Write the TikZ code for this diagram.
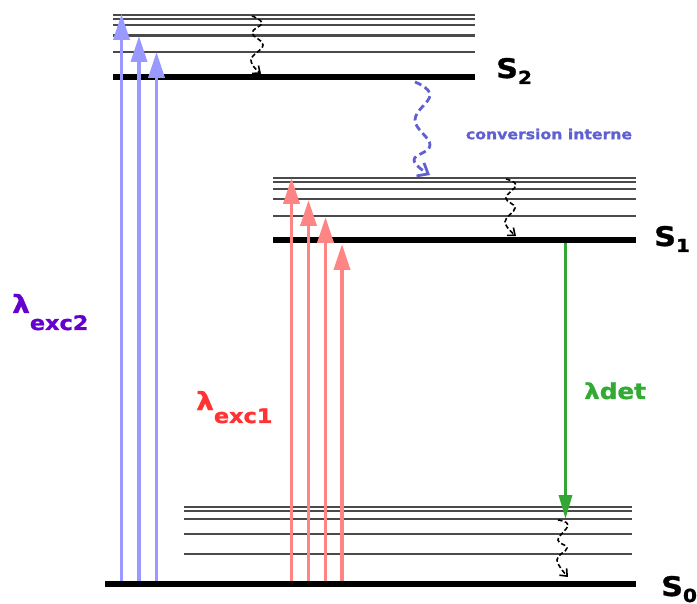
\documentclass[tikz,border=0pt]{standalone}
\usepackage{fontspec}
\setmainfont{DejaVu Sans}[BoldFeatures={FakeStretch=1.12,FakeBold=1.2}]
\usetikzlibrary{arrows.meta}
\definecolor{lvlgray}{HTML}{4A4A4A}
\definecolor{bluearr}{HTML}{9999FF}
\definecolor{redarr}{HTML}{FF8585}
\definecolor{greenarr}{HTML}{33A633}
\definecolor{purplelab}{HTML}{6600CC}
\definecolor{redlab}{HTML}{FF3333}
\definecolor{greenlab}{HTML}{33AA33}
\definecolor{convblue}{HTML}{6060D0}
\begin{document}
\begin{tikzpicture}[x=1pt,y=-1pt,
  thinlvl/.style={draw=lvlgray, line width=2.2pt},
  thicklvl/.style={draw=black, line width=6pt},
  bluex/.style={draw=bluearr, line width=3.6pt, -{Triangle[length=26pt,width=16pt]}},
  redx/.style={draw=redarr, line width=3.9pt, -{Triangle[length=26pt,width=16pt]}},
  greenx/.style={draw=greenarr, line width=3.2pt, -{Triangle[length=24pt,width=13pt]}},
  relaxw/.style={draw=black, dash pattern=on 4.5pt off 2.5pt, line width=1.6pt, -{Straight Barb[length=6pt,width=10pt]}},
  convw/.style={draw=convblue, dash pattern=on 7pt off 4pt, line width=2.8pt, -{Straight Barb[length=9pt,width=15pt]}},
  lab/.style={anchor=base west, inner sep=0pt, font=\bfseries}
]
\useasboundingbox (0,0) rectangle (697,604);

% S2 manifold
\foreach \yy in {15,19,25,35.5,52.3}
  \draw[thinlvl] (113,\yy) -- (475,\yy);
\draw[thicklvl] (113,77) -- (475,77);
% S1 manifold
\foreach \yy in {177.7,181.7,189,199,215.7}
  \draw[thinlvl] (273,\yy) -- (636,\yy);
\draw[thicklvl] (273,240.5) -- (636,240.5);
% S0 manifold
\foreach \yy in {507.3,510.7,519,534,554}
  \draw[thinlvl] (184,\yy) -- (632,\yy);
\draw[thicklvl] (105,583.8) -- (636,583.8);

% named end points
\coordinate (b1) at (121.5,581); \coordinate (t1) at (121.5,14);
\coordinate (b2) at (139,581);   \coordinate (t2) at (139,36);
\coordinate (b3) at (156.5,581); \coordinate (t3) at (156.5,52);
\coordinate (r1b) at (291.5,581); \coordinate (r1t) at (291.5,178);
\coordinate (r2b) at (308.5,581); \coordinate (r2t) at (308.5,200);
\coordinate (r3b) at (325.5,581); \coordinate (r3t) at (325.5,217);
\coordinate (r4b) at (342,581);   \coordinate (r4t) at (342,244);
\coordinate (gb) at (565.5,243);  \coordinate (gt) at (565.5,519);

% excitation arrows
\draw[bluex] (b1) -- (t1);
\draw[bluex] (b2) -- (t2);
\draw[bluex] (b3) -- (t3);
\draw[redx] (r1b) -- (r1t);
\draw[redx] (r2b) -- (r2t);
\draw[redx] (r3b) -- (r3t);
\draw[redx] (r4b) -- (r4t);
% emission
\draw[greenx] (gb) -- (gt);

% vibrational relaxation
\draw[relaxw] plot[smooth, tension=0.7] coordinates {(252,16) (262,23) (252,33) (263,45) (251,60) (261,74)};
\draw[relaxw] plot[smooth, tension=0.7] coordinates {(506,179) (516,185) (506,198) (515,208) (505,222) (516,236)};
\draw[relaxw] plot[smooth, tension=0.7] coordinates {(558,520) (568,525) (558,540) (567,548) (557,560) (568,577)};
% internal conversion
\draw[convw] plot[smooth, tension=0.7] coordinates {(415,82) (430,95) (415,120) (430,145) (414,160) (430,175)};

% labels
\node[lab] (s2) at (496,78) {\fontsize{27}{27}\selectfont S\raisebox{-6pt}{\fontsize{18}{18}\selectfont 2}};
\node[lab] (s1) at (654,246) {\fontsize{27}{27}\selectfont S\raisebox{-6pt}{\fontsize{18}{18}\selectfont 1}};
\node[lab] (s0) at (661,596) {\fontsize{27}{27}\selectfont S\raisebox{-6pt}{\fontsize{18}{18}\selectfont 0}};
\node[anchor=center, inner sep=0pt, font=\bfseries, text=convblue] (ci) at (549,134) {\fontsize{14}{14}\selectfont conversion interne};
\node[lab, text=purplelab] (lexc2) at (12,313) {\fontsize{25}{25}\selectfont λ\raisebox{-17pt}{\fontsize{20}{20}\selectfont exc2}};
\node[lab, text=redlab] (lexc1) at (196,410) {\fontsize{25}{25}\selectfont λ\raisebox{-13pt}{\fontsize{20}{20}\selectfont exc1}};
\node[lab, text=greenlab] (ldet) at (584,399) {\fontsize{22}{22}\selectfont λ\fontsize{22}{22}\selectfont det};
\end{tikzpicture}
\end{document}
